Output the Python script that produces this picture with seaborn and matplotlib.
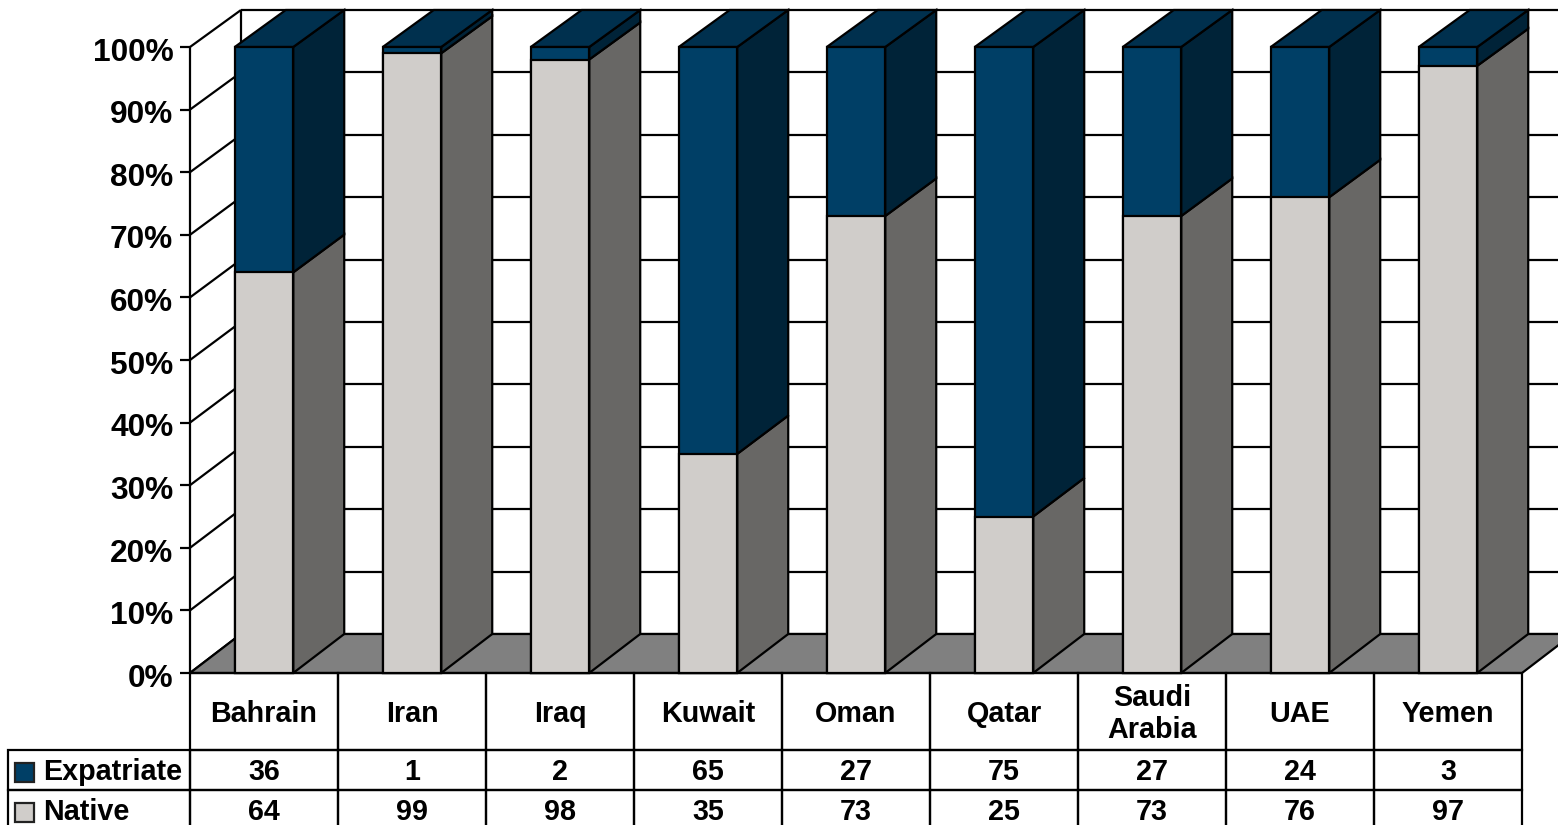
import matplotlib
matplotlib.use("Agg")
import matplotlib.pyplot as plt
from matplotlib.patches import Polygon, Rectangle
from matplotlib.transforms import Affine2D
import seaborn as sns

countries = ["Bahrain", "Iran", "Iraq", "Kuwait", "Oman", "Qatar", "Saudi\nArabia", "UAE", "Yemen"]
expatriate = [36, 1, 2, 65, 27, 75, 27, 24, 3]
native = [64, 99, 98, 35, 73, 25, 73, 76, 97]
percent_ticks = list(range(0, 101, 10))

W, H = 1558, 825
LEFT, RIGHT, TOP, BOTTOM = 190, 1522, 47, 673
LW = 1.6
BAR_WIDTH = 0.395
DX = 51 / 148      # depth of the 3D box, in category units


def depth(p):
    """Vertical depth offset in percent units; the box narrows slightly upward."""
    return (39 - 2 * p / 100) / 6.26


EXP_FRONT, EXP_TOP, EXP_SIDE = "#003F66", "#00304E", "#002338"
NAT_FRONT, NAT_SIDE = "#D0CDCA", "#686765"
FLOOR = "#808080"

sns.set_theme(style="white")
plt.rcParams["font.family"] = ["Liberation Sans", "DejaVu Sans"]
plt.rcParams["font.weight"] = "bold"

fig = plt.figure(figsize=(W / 100, H / 100), dpi=100, facecolor="white")
ax = fig.add_axes([LEFT / W, 1 - BOTTOM / H, (RIGHT - LEFT) / W, (BOTTOM - TOP) / H])
ax.patch.set_alpha(0)

# Front faces: full stack first, native portion over it
total = [e + n for e, n in zip(expatriate, native)]
sns.barplot(x=countries, y=total, color=EXP_FRONT, saturation=1, width=BAR_WIDTH,
            edgecolor="black", linewidth=LW, ax=ax)
sns.barplot(x=countries, y=native, color=NAT_FRONT, saturation=1, width=BAR_WIDTH,
            edgecolor="black", linewidth=LW, ax=ax)
for bar in ax.patches:
    bar.set_zorder(6)
    bar.set_clip_on(False)

ax.set_xlim(-0.5, len(countries) - 0.5)
ax.set_ylim(0, 100)
sns.despine(ax=ax, left=True, bottom=True, top=True, right=True)


def face(points, color, z):
    ax.add_patch(Polygon(points, closed=True, facecolor=color, edgecolor="black",
                         linewidth=LW, clip_on=False, zorder=z, joinstyle="miter"))


def line(xs, ys, z=1):
    ax.plot(xs, ys, color="black", lw=LW, clip_on=False, zorder=z, solid_capstyle="butt")


x0, x1 = -0.5, len(countries) - 0.5

# Back wall grid and left wall diagonals
for p in percent_ticks:
    line([x0 + DX, x1 + DX], [p + depth(p), p + depth(p)])
    line([x0, x0 + DX], [p, p + depth(p)])
line([x0, x0], [0, 100])
line([x0 + DX, x0 + DX], [depth(0), 100 + depth(100)])

# Floor
face([(x0, 0), (x0 + DX, depth(0)), (x1 + DX, depth(0)), (x1, 0)], FLOOR, 2)

# Side and top faces of each column
half = BAR_WIDTH / 2
for i, (n, t) in enumerate(zip(native, total)):
    l, r = i - half, i + half
    dn, dt = n + depth(n), t + depth(t)
    face([(r, 0), (r + DX, depth(0)), (r + DX, dn), (r, n)], NAT_SIDE, 4)
    face([(r, n), (r + DX, dn), (r + DX, dt), (r, t)], EXP_SIDE, 4)
    face([(l, t), (l + DX, dt), (r + DX, dt), (r, t)], EXP_TOP, 5)

# Percent axis
ax.set_yticks(percent_ticks)
ax.set_yticklabels([f"{p}%" for p in percent_ticks], fontsize=22.8, fontweight="bold", color="black")
ax.tick_params(axis="y", left=True, length=7.2, width=LW, pad=4.8, color="black")
for lab in ax.get_yticklabels():
    lab.set_transform(lab.get_transform() + Affine2D().translate(0, -2.2))
ax.set_xticks([])
ax.set_xlabel("")

# Data table beneath the plot
ROW_TOPS = [673, 750, 790, 830]
TABLE_LEFT = 8
span = RIGHT - LEFT
tall = BOTTOM - TOP
bbox = [(TABLE_LEFT - LEFT) / span, (BOTTOM - ROW_TOPS[-1]) / tall,
        (RIGHT - TABLE_LEFT) / span, (ROW_TOPS[-1] - ROW_TOPS[0]) / tall]
rows = [[""] + countries,
        ["Expatriate"] + [str(v) for v in expatriate],
        ["Native"] + [str(v) for v in native]]
first_col = (LEFT - TABLE_LEFT) / (RIGHT - TABLE_LEFT)
col_widths = [first_col] + [(1 - first_col) / len(countries)] * len(countries)
table = ax.table(cellText=rows, colWidths=col_widths, cellLoc="center", bbox=bbox)
table.auto_set_font_size(False)
table.set_fontsize(20.7)
table.set_zorder(3)
heights = [77 / 157, 40 / 157, 40 / 157]
for (r, c), cell in table.get_celld().items():
    cell.set_height(heights[r])
    cell.set_linewidth(LW)
    cell.set_edgecolor("black")
    cell.set_facecolor("none")
    text = cell.get_text()
    text.set_fontweight("bold")
    text.set_color("black")
    text.set_linespacing(1.15)
    text.set_transform(Affine2D().translate(0, -2.5))
    if c == 0:
        cell.PAD = (43 - TABLE_LEFT) / (LEFT - TABLE_LEFT)
        text.set_horizontalalignment("left")
        if r == 0:
            cell.visible_edges = ""


def key(top, color):
    x = (15 - LEFT) / span
    y = (BOTTOM - (top + 19)) / tall
    ax.add_patch(Rectangle((x, y), 19 / span, 19 / tall, transform=ax.transAxes,
                           facecolor=color, edgecolor="#222222", linewidth=LW,
                           clip_on=False, zorder=7))


key(763, EXP_FRONT)
key(803, NAT_FRONT)

fig.savefig("out.png", dpi=100, facecolor="white")
